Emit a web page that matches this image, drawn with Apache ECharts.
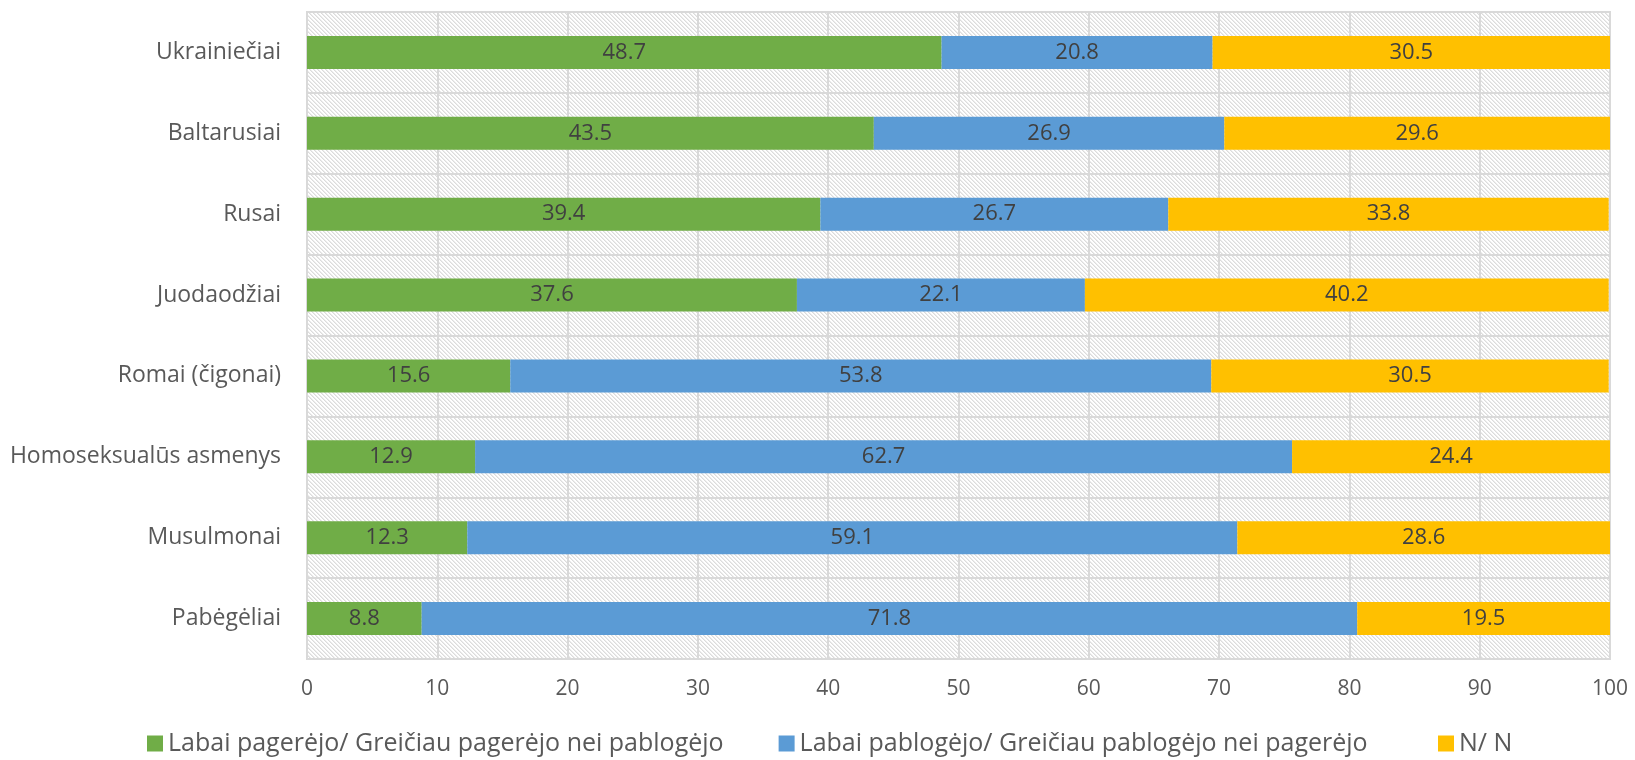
<!DOCTYPE html>
<html style="height: 100%" lang="lt">

<head>
  <meta charset="utf-8">
  <script type="text/javascript" src="https://cdn.jsdelivr.net/npm/echarts@6/dist/echarts.min.js"></script>
</head>

<body style="height: 100%; margin: 0; background: #fff">
  <div id="container" style="width: 1635px; height: 760px"></div>
  <script type="text/javascript">
    var categories = ['Ukrainiečiai', 'Baltarusiai', 'Rusai', 'Juodaodžiai', 'Romai (čigonai)',
      'Homoseksualūs asmenys', 'Musulmonai', 'Pabėgėliai'];
    var seriesNames = ['Labai pagerėjo/ Greičiau pagerėjo nei pablogėjo',
      'Labai pablogėjo/ Greičiau pablogėjo nei pagerėjo', 'N/ N'];
    var improved = [48.7, 43.5, 39.4, 37.6, 15.6, 12.9, 12.3, 8.8];
    var worsened = [20.8, 26.9, 26.7, 22.1, 53.8, 62.7, 59.1, 71.8];
    var noAnswer = [30.5, 29.6, 33.8, 40.2, 30.5, 24.4, 28.6, 19.5];
    var xTicks = [0, 10, 20, 30, 40, 50, 60, 70, 80, 90, 100];

    var colors = ['#70AD47', '#5B9BD5', '#FFC000'];
    var font = 'Open Sans';

    // diagonal hatch for plot background
    var tile = document.createElement('canvas');
    tile.width = 4;
    tile.height = 4;
    var ctx = tile.getContext('2d');
    ctx.fillStyle = '#ffffff';
    ctx.fillRect(0, 0, 4, 4);
    for (var i = 0; i < 4; i++) {
      ctx.fillStyle = '#dcdcdc';
      ctx.fillRect(i, i, 1, 1);
      ctx.fillStyle = '#ececec';
      ctx.fillRect((i + 1) % 4, i, 1, 1);
    }

    var dom = document.getElementById('container');
    var myChart = echarts.init(dom);

    function makeSeries(name, values, color) {
      return {
        name: name,
        type: 'bar',
        stack: 'total',
        barWidth: 33,
        data: values,
        itemStyle: { color: color },
        label: {
          show: true,
          position: 'inside',
          color: '#404040',
          fontFamily: font,
          fontSize: 22,
          formatter: function(p) { return p.value.toFixed(1); }
        }
      };
    }

    var legendBase = {
      top: 731,
      padding: 0,
      itemWidth: 16,
      itemHeight: 16,
      itemGap: 55,
      icon: 'rect',
      textStyle: { color: '#595959', fontFamily: font, fontSize: 25 }
    };

    var option = {
      animation: false,
      color: colors,
      grid: {
        left: 307,
        right: 25,
        top: 12,
        bottom: 101,
        show: true,
        borderColor: '#d9d9d9',
        borderWidth: 2,
        backgroundColor: { image: tile, repeat: 'repeat' }
      },
      legend: [
        Object.assign({}, legendBase, { left: 147, data: seriesNames.slice(0, 2) }),
        Object.assign({}, legendBase, { left: 1438, data: seriesNames.slice(2) })
      ],
      xAxis: {
        type: 'value',
        min: 0,
        max: 100,
        interval: 10,
        axisLine: { show: false },
        axisTick: { show: false },
        axisLabel: {
          color: '#595959',
          fontFamily: font,
          fontSize: 21,
          margin: 20,
          formatter: function(v) { return xTicks.indexOf(v) >= 0 ? String(v) : ''; }
        },
        splitLine: { show: true, lineStyle: { color: '#d9d9d9', width: 2 } }
      },
      yAxis: {
        type: 'category',
        inverse: true,
        data: categories,
        axisLine: { show: false },
        axisTick: { show: false },
        axisLabel: {
          color: '#595959',
          fontFamily: font,
          fontSize: 23,
          margin: 26
        },
        splitLine: { show: true, lineStyle: { color: '#d9d9d9', width: 2 } }
      },
      series: [
        makeSeries(seriesNames[0], improved, colors[0]),
        makeSeries(seriesNames[1], worsened, colors[1]),
        makeSeries(seriesNames[2], noAnswer, colors[2])
      ]
    };

    myChart.setOption(option);
  </script>
</body>

</html>
